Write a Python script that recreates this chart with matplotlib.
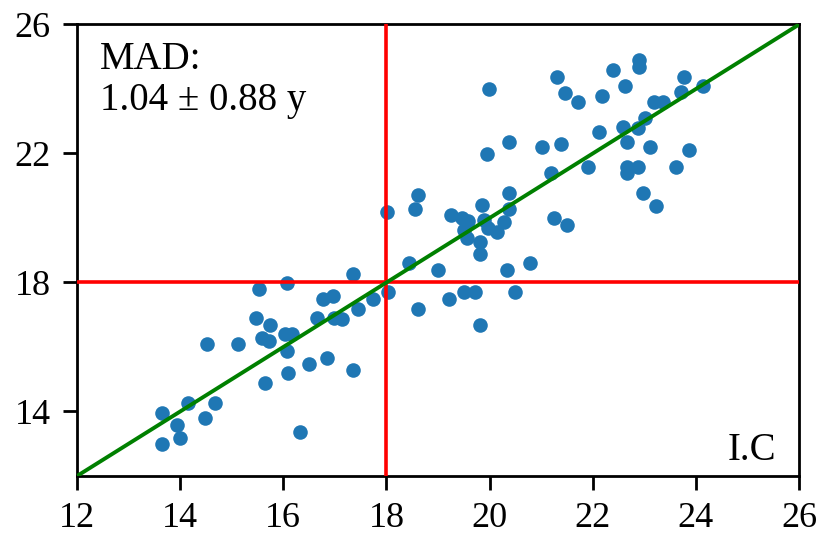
import matplotlib
matplotlib.use("Agg")
import matplotlib.pyplot as plt

x_vals = [
    17.35, 15.53, 16.07, 16.76, 16.96, 17.73, 18.03, 15.48, 15.75, 16.65,
    16.98, 17.14, 17.44, 16.04, 16.17, 15.58, 15.72, 16.07, 14.52, 15.12,
    16.50, 16.84, 16.09, 15.64, 17.35, 14.16, 14.67, 13.65, 13.94, 14.49,
    13.99, 13.65, 16.32,
    18.01, 18.61, 18.55, 19.95, 20.38, 21.02, 21.38, 21.20, 20.38, 19.86,
    20.38, 19.26, 19.47, 19.58, 19.89, 20.27, 19.50, 19.96, 20.15, 19.56,
    19.81, 19.81, 21.24, 21.50, 18.43, 18.99, 20.33, 20.78, 19.21, 19.50,
    19.71, 20.49, 18.61, 19.81, 19.99,
    22.90, 22.90, 22.40, 21.30, 23.76, 21.46, 21.71, 22.17, 22.62, 23.72,
    24.13, 23.19, 23.37, 23.02, 22.87, 22.58, 22.12, 22.66, 23.11, 23.87,
    21.90, 22.67, 22.87, 22.66, 23.61, 22.98, 23.22,
]
y_vals = [
    18.26, 17.79, 17.98, 17.48, 17.58, 17.48, 17.69, 16.89, 16.68, 16.89,
    16.89, 16.86, 17.17, 16.39, 16.39, 16.27, 16.19, 15.88, 16.08, 16.08,
    15.47, 15.67, 15.18, 14.87, 15.29, 14.27, 14.27, 13.96, 13.58, 13.79,
    13.17, 12.98, 13.37,
    20.18, 20.71, 20.27, 21.98, 22.37, 22.19, 22.29, 21.41, 20.79, 20.40,
    20.27, 20.09, 19.99, 19.90, 19.94, 19.89, 19.63, 19.68, 19.58, 19.37,
    19.27, 18.88, 19.99, 19.78, 18.59, 18.39, 18.39, 18.59, 17.48, 17.69,
    17.69, 17.69, 17.17, 16.68, 24.01,
    24.90, 24.67, 24.59, 24.38, 24.38, 23.88, 23.59, 23.78, 24.09, 23.90,
    24.09, 23.59, 23.61, 23.09, 22.78, 22.81, 22.68, 22.37, 22.19, 22.10,
    21.59, 21.59, 21.59, 21.39, 21.59, 20.78, 20.38,
]
ticks = [12, 14, 16, 18, 20, 22, 24, 26]
yticks = [14, 18, 22, 26]
threshold = 18
mad_text = "MAD:\n1.04 \u00b1 0.88 y"
corner_label = "I.C"

plt.rcParams['font.family'] = ['Liberation Serif', 'DejaVu Serif']

fig = plt.figure(figsize=(8.3, 5.54), dpi=100)
ax = fig.add_axes([0.0928, 0.1408, 0.8699, 0.815])

ax.scatter(x_vals, y_vals, s=110, color='#1f77b4', linewidths=0, zorder=2)
ax.axhline(threshold, color='red', lw=2.6, zorder=3)
ax.axvline(threshold, color='red', lw=2.6, zorder=3)
ax.plot([12, 26], [12, 26], color='green', lw=2.8, zorder=4)

ax.set_xlim(12, 26)
ax.set_ylim(12, 26)
ax.set_xticks(ticks)
ax.set_yticks(yticks)
ax.tick_params(length=10, width=2, pad=9, labelsize=26)
for sp in ax.spines.values():
    sp.set_linewidth(2)

ax.text(0.032, 0.963, mad_text, transform=ax.transAxes, fontsize=28,
        va='top', ha='left', linespacing=1.12)
ax.text(0.968, 0.035, corner_label, transform=ax.transAxes, fontsize=28,
        va='baseline', ha='right')

plt.savefig('out.png', dpi=100)
